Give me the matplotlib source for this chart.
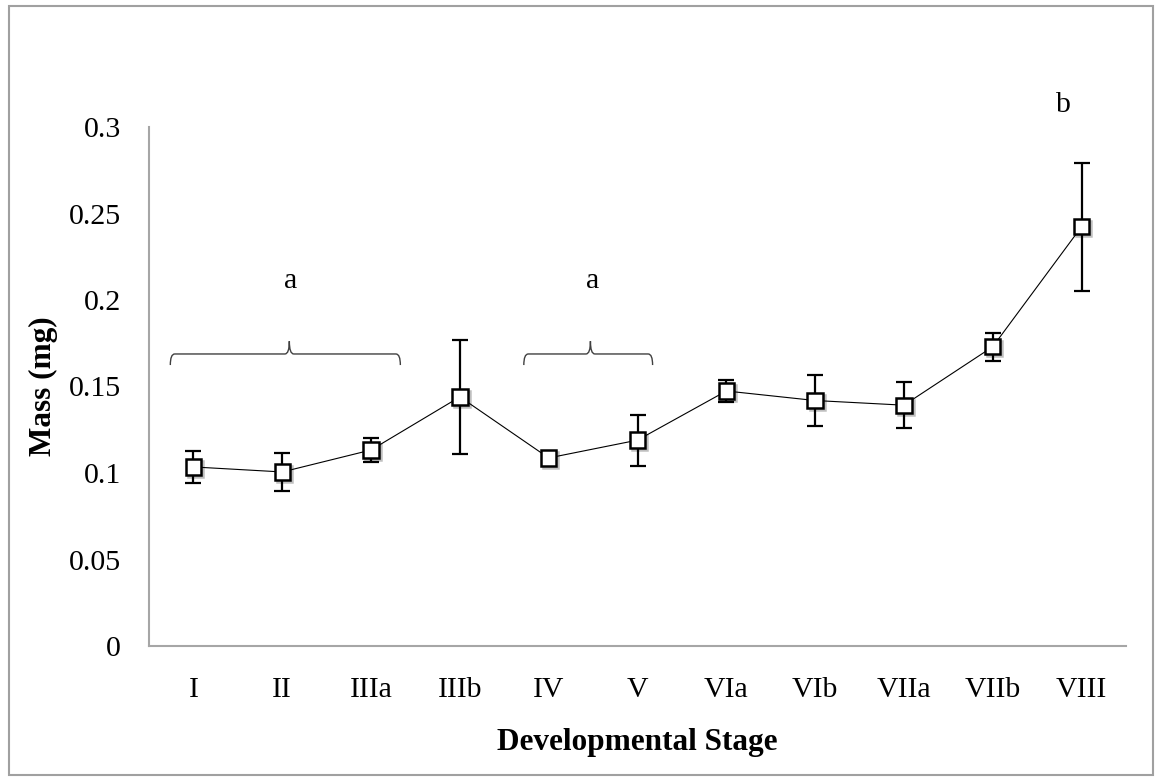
import numpy as np
import matplotlib.pyplot as plt
import matplotlib.patheffects as pe
from matplotlib.path import Path
from matplotlib.patches import PathPatch, Rectangle

stages = ["I", "II", "IIIa", "IIIb", "IV", "V", "VIa", "VIb", "VIIa", "VIIb", "VIII"]
mass = [0.1035, 0.1006, 0.1133, 0.144, 0.1087, 0.119, 0.1474, 0.1419, 0.1392, 0.173, 0.2424]
err = [0.0095, 0.011, 0.0072, 0.033, 0.0008, 0.0147, 0.0063, 0.015, 0.0132, 0.008, 0.037]
yticks = [0, 0.05, 0.1, 0.15, 0.2, 0.25, 0.3]
ytick_labels = ["0", "0.05", "0.1", "0.15", "0.2", "0.25", "0.3"]

# brace groups: (start, end, centre, letter)
groups = [(-0.26, 2.33, 1.08, "a"), (3.72, 5.17, 4.47, "a")]

plt.rcParams['font.family'] = ['Liberation Serif', 'DejaVu Serif']

fig = plt.figure(figsize=(11.57, 7.78), dpi=100)
ax = fig.add_axes([149 / 1157, 132 / 778, (1126 - 149) / 1157, (646 - 127) / 778])

x = np.arange(len(stages))
# connecting line + error bars
ax.errorbar(x, mass, yerr=err, color='black', lw=0.8, elinewidth=1.6,
            capsize=6, capthick=1.6, fmt='-', zorder=3)
# markers with a soft shadow
ax.plot(x, mass, 's', markersize=11, markerfacecolor='white',
        markeredgecolor='black', markeredgewidth=1.8, zorder=4,
        path_effects=[pe.SimpleLineShadow(offset=(1.5, -1.5), shadow_color='black', alpha=0.25),
                      pe.Normal()])

ax.set_xlim(-0.5, len(stages) - 0.5)
ax.set_ylim(0, 0.3)
ax.set_yticks(yticks)
ax.set_yticklabels(ytick_labels)
ax.set_xticks(x)
ax.set_xticklabels(stages)
ax.tick_params(axis='both', length=0, labelsize=21.5)
ax.tick_params(axis='y', pad=20)
ax.tick_params(axis='x', pad=22)

for s in ['top', 'right']:
    ax.spines[s].set_visible(False)
for s in ['left', 'bottom']:
    ax.spines[s].set_color('#a6a6a6')
    ax.spines[s].set_linewidth(1.5)

ax.set_xlabel("Developmental Stage", fontsize=22.5, fontweight='bold', labelpad=18)
ax.set_ylabel("Mass (mg)", fontsize=22.5, fontweight='bold', labelpad=8)


def brace(x0, x1, xc, yb=0.1624, yl=0.1688, yt=0.1762):
    r = 0.05
    verts = [(x0, yb), (x0, yl), (x0 + r, yl),
             (xc - r, yl), (xc, yl), (xc, yt),
             (xc, yl), (xc + r, yl),
             (x1 - r, yl), (x1, yl), (x1, yb)]
    codes = [Path.MOVETO, Path.CURVE3, Path.CURVE3,
             Path.LINETO, Path.CURVE3, Path.CURVE3,
             Path.CURVE3, Path.CURVE3,
             Path.LINETO, Path.CURVE3, Path.CURVE3]
    return Path(verts, codes)


for x0, x1, xc, letter in groups:
    ax.add_patch(PathPatch(brace(x0, x1, xc), fill=False, edgecolor='#404040', lw=1.0))
    ax.text(xc + 0.02, 0.211, letter, fontsize=21.5, ha='center', va='center')

ax.text(9.8, 0.3127, "b", fontsize=21.5, ha='center', va='center', clip_on=False)

fig.patches.append(Rectangle((9 / 1157, 3 / 778), 1144 / 1157, 769 / 778,
                             transform=fig.transFigure, fill=False,
                             edgecolor='#a0a0a0', lw=1.5))

fig.savefig("out.png", dpi=100)
